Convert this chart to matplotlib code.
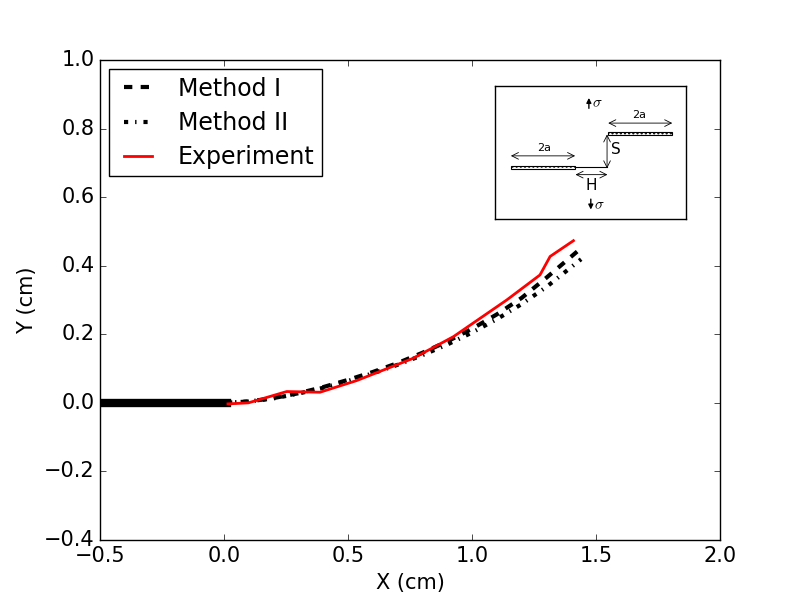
import matplotlib
matplotlib.use('Agg')
import matplotlib.pyplot as plt

plt.style.use('classic')

# crack line (left, thick)
crack_x = [-0.5, 0.012]
crack_y = [0.0, 0.0]

# Method I (dashed)
m1_x = [0.0, 0.1, 0.2, 0.3, 0.4, 0.5, 0.6, 0.7, 0.8, 0.9, 1.0, 1.1, 1.2, 1.3, 1.43]
m1_y = [0.0, 0.004, 0.014, 0.028, 0.046, 0.067, 0.090, 0.116, 0.146, 0.179, 0.216, 0.258, 0.306, 0.365, 0.445]

# Method II (dash-dot)
m2_x = [0.0, 0.1, 0.2, 0.3, 0.4, 0.5, 0.6, 0.7, 0.8, 0.9, 1.0, 1.1, 1.2, 1.3, 1.44]
m2_y = [0.0, 0.004, 0.013, 0.027, 0.044, 0.064, 0.086, 0.111, 0.139, 0.170, 0.205, 0.244, 0.288, 0.338, 0.419]

# Experiment
exp_x = [0.016, 0.098, 0.253, 0.387, 0.535, 0.763, 0.925, 1.14, 1.274, 1.315, 1.409]
exp_y = [-0.003, 0.0, 0.033, 0.031, 0.065, 0.130, 0.193, 0.300, 0.373, 0.427, 0.473]

fig = plt.figure(figsize=(8, 6), dpi=100)
ax = fig.add_axes([0.125, 0.1, 0.775, 0.8])

ax.plot(crack_x, crack_y, color='black', linewidth=6)
ax.plot(m1_x, m1_y, 'k--', linewidth=3, label='Method I')
ax.plot(m2_x, m2_y, 'k-.', linewidth=3, label='Method II')
ax.plot(exp_x, exp_y, 'r-', linewidth=2, label='Experiment')

ax.set_xlim(-0.5, 2.0)
ax.set_ylim(-0.4, 1.0)
ax.set_xlabel('X (cm)', fontsize=15)
ax.set_ylabel('Y (cm)', fontsize=15)
ax.tick_params(labelsize=15)
ax.legend(loc='upper left', fontsize=17, handlelength=1.8, labelspacing=0.44,
          borderpad=0.3, borderaxespad=0.4)

# inset sketch of the two cracks
ins = fig.add_axes([0.619, 0.635, 0.239, 0.222])
ins.set_xlim(0, 1)
ins.set_ylim(0, 1)
ins.set_xticks([])
ins.set_yticks([])

ins.add_patch(plt.Rectangle((0.082, 0.375), 0.336, 0.025, facecolor='white',
                            edgecolor='black', linewidth=0.8, hatch='....'))
ins.add_patch(plt.Rectangle((0.591, 0.628), 0.335, 0.025, facecolor='white',
                            edgecolor='black', linewidth=0.8, hatch='....'))
ins.plot([0.418, 0.585], [0.387, 0.387], color='black', linewidth=0.8)

arr = dict(arrowstyle='<->', color='black', linewidth=0.6, shrinkA=0, shrinkB=0)
ins.annotate('', xy=(0.082, 0.474), xytext=(0.418, 0.474), arrowprops=arr)
ins.annotate('', xy=(0.591, 0.72), xytext=(0.926, 0.72), arrowprops=arr)
ins.annotate('', xy=(0.42, 0.333), xytext=(0.587, 0.333), arrowprops=arr)
ins.annotate('', xy=(0.585, 0.38), xytext=(0.585, 0.635), arrowprops=arr)

ins.text(0.254, 0.53, '2a', fontsize=8, ha='center', va='center')
ins.text(0.754, 0.783, '2a', fontsize=8, ha='center', va='center')
ins.text(0.5, 0.25, 'H', fontsize=11, ha='center', va='center')
ins.text(0.63, 0.52, 'S', fontsize=11, ha='center', va='center')

up = dict(arrowstyle='-|>', color='black', linewidth=1.0, mutation_scale=7)
ins.annotate('', xy=(0.49, 0.93), xytext=(0.49, 0.81), arrowprops=up)
ins.annotate('', xy=(0.5, 0.05), xytext=(0.5, 0.17), arrowprops=up)
ins.text(0.505, 0.87, r'$\sigma$', fontsize=11, ha='left', va='center')
ins.text(0.515, 0.11, r'$\sigma$', fontsize=11, ha='left', va='center')

fig.savefig('out.png', dpi=100)
